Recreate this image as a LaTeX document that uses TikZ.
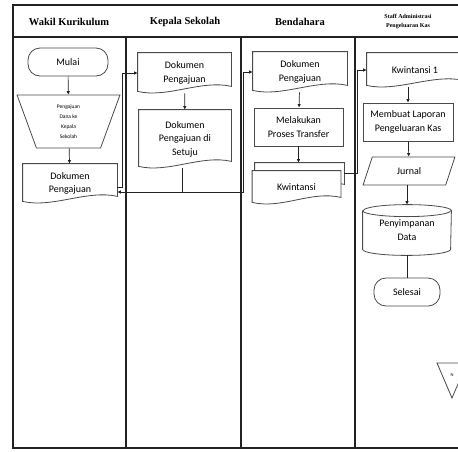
\documentclass[tikz,border=0pt]{standalone}
\usepackage{fontspec}
\setmainfont{Carlito}
\newfontfamily\headfont{Liberation Serif}
\usetikzlibrary{shapes.geometric,arrows.meta}

\definecolor{shapeline}{HTML}{4A4A4A}
\definecolor{laneline}{HTML}{222222}

\tikzset{
  lane/.style={draw=laneline, line width=1.6pt},
  outline/.style={draw=shapeline, line width=0.8pt},
  box/.style={outline, fill=white, align=center, inner sep=1pt,
    font=\fontsize{10}{13.5}\selectfont},
  terminal/.style={box, rounded corners=12pt},
  process/.style={box},
  docbox/.style={box, draw=none},
  manualop/.style={box, trapezium, trapezium stretches=true,
    trapezium angle=78, shape border rotate=180,
    font=\fontsize{5.5}{10}\selectfont},
  iobox/.style={box, trapezium, trapezium stretches=true,
    trapezium left angle=70, trapezium right angle=110},
  flow/.style={draw=laneline, line width=0.7pt},
  arr/.style={flow, -{Latex[length=3.5pt,width=3.5pt]}},
  head/.style={font=\headfont\bfseries\fontsize{10.5}{12}\selectfont},
}

% wavy-bottom document outline around a named node
\newcommand\docoutline[1]{%
  \draw[outline] (#1.north west) -- (#1.north east)
    -- ([yshift=7pt]#1.south east)
    .. controls ([xshift=-30pt,yshift=14pt]#1.south east)
       and ([xshift=30pt,yshift=-5pt]#1.south west) .. ([yshift=2pt]#1.south west)
    -- cycle;}

\begin{document}
\begin{tikzpicture}[x=1pt,y=-1pt]
\useasboundingbox (0,0) rectangle (458,451);
\clip (0,0) rectangle (458,451);
\fill[white] (0,0) rectangle (458,451);

% swimlane frame
\draw[lane] (13,5) rectangle (480,448);
\draw[lane] (13,37) -- (480,37);
\draw[lane] (126,37) -- (126,448);
\draw[lane] (241,37) -- (241,448);
\draw[lane] (355,37) -- (355,448);

% lane titles
\node[head] (h1) at (69,22) {Wakil Kurikulum};
\node[head] (h2) at (185,22) {Kepala Sekolah};
\node[head] (h3) at (300,22) {Bendahara};
\node[head, font=\headfont\bfseries\fontsize{6}{9}\selectfont, align=center] (h4) at (408,22)
  {Staff Administrasi\\Pengeluaran Kas};

% Wakil Kurikulum
\node[terminal, minimum width=80pt, minimum height=28pt] (mulai) at (68,62) {Mulai};
\node[manualop, minimum width=103pt, minimum height=53pt] (dana) at (68.5,121.5)
  {Pengajuan\\Dana ke\\Kepala\\Sekolah};
\node[docbox, minimum width=94pt, minimum height=39pt] (doc1) at (70,183.5)
  {Dokumen\\Pengajuan};
\docoutline{doc1}

% Kepala Sekolah
\node[docbox, minimum width=93pt, minimum height=40pt] (doc2) at (184.5,73)
  {Dokumen\\Pengajuan};
\docoutline{doc2}
\node[docbox, minimum width=92pt, minimum height=58pt] (doc3) at (185,139)
  {Dokumen\\Pengajuan di\\Setuju};
\docoutline{doc3}

% Bendahara
\node[docbox, minimum width=94pt, minimum height=40pt] (doc4) at (300,72)
  {Dokumen\\Pengajuan};
\docoutline{doc4}
\node[process, minimum width=89pt, minimum height=38pt] (proc1) at (298.5,127)
  {Melakukan\\Proses Transfer};
\node[docbox, minimum width=89pt, minimum height=28pt] (kwb) at (299.5,177) {};
\docoutline{kwb}
\node[docbox, minimum width=88pt, minimum height=33pt] (kw) at (296.5,187.5) {Kwintansi};
\docoutline{kw}

% Staff Administrasi Pengeluaran Kas
\node[docbox, minimum width=96pt, minimum height=34pt] (doc5) at (415,70) {Kwintansi 1};
\docoutline{doc5}
\node[process, minimum width=90pt, minimum height=38pt] (proc2) at (408,122)
  {Membuat Laporan\\Pengeluaran Kas};
\node[iobox, minimum width=92pt, minimum height=28pt] (jurnal) at (409,171) {Jurnal};
\node[docbox, minimum width=88pt, minimum height=50pt] (db) at (407,230)
  {Penyimpanan\\Data};
\draw[outline] ([yshift=-6pt]db.north west) -- ([yshift=6pt]db.south west)
  arc[start angle=180, end angle=360, x radius=44pt, y radius=6pt]
  -- ([yshift=-6pt]db.north east)
  arc[start angle=0, end angle=180, x radius=44pt, y radius=6pt];
\draw[outline] ([yshift=-6pt]db.north west)
  arc[start angle=180, end angle=360, x radius=44pt, y radius=6pt];
\node[terminal, minimum width=66pt, minimum height=28pt] (selesai) at (407,292) {Selesai};

% off-page connector
\node[font=\fontsize{4.5}{5}\selectfont, inner sep=0pt] (offp) at (452,375) {N};
\draw[outline] ([xshift=-15pt,yshift=12pt]offp.center) -- ([xshift=15pt,yshift=12pt]offp.center)
  -- ([yshift=-23pt]offp.center) -- cycle;

% connectors
\coordinate (j1) at (243,192);
\draw[arr] (mulai) -- (dana);
\draw[arr] (dana) -- (doc1);
\draw[arr] ([yshift=-4pt]doc1.east) -- ++(5,0) |- (doc2.west);
\draw[arr] (doc2) -- (doc3);
\draw[arr] ([xshift=-3pt]doc3.south) |- ([yshift=-8.5pt]doc1.east);
\draw[arr] ([xshift=-3pt]doc3.south) |- (j1) |- (doc4.west);
\draw[arr] (doc4) -- (proc1);
\draw[arr] (proc1.south) -- (proc1.south |- kwb.north);
\draw[arr] ([yshift=4pt]kwb.east) -- ++(13,0) |- (doc5.west);
\draw[arr] (doc5.south -| proc2.north) -- (proc2.north);
\draw[arr] (proc2) -- (jurnal);
\draw[arr] (jurnal.south -| db.north) -- (db.north);
\draw[flow] (db.south) -- (selesai.north);
\end{tikzpicture}
\end{document}
